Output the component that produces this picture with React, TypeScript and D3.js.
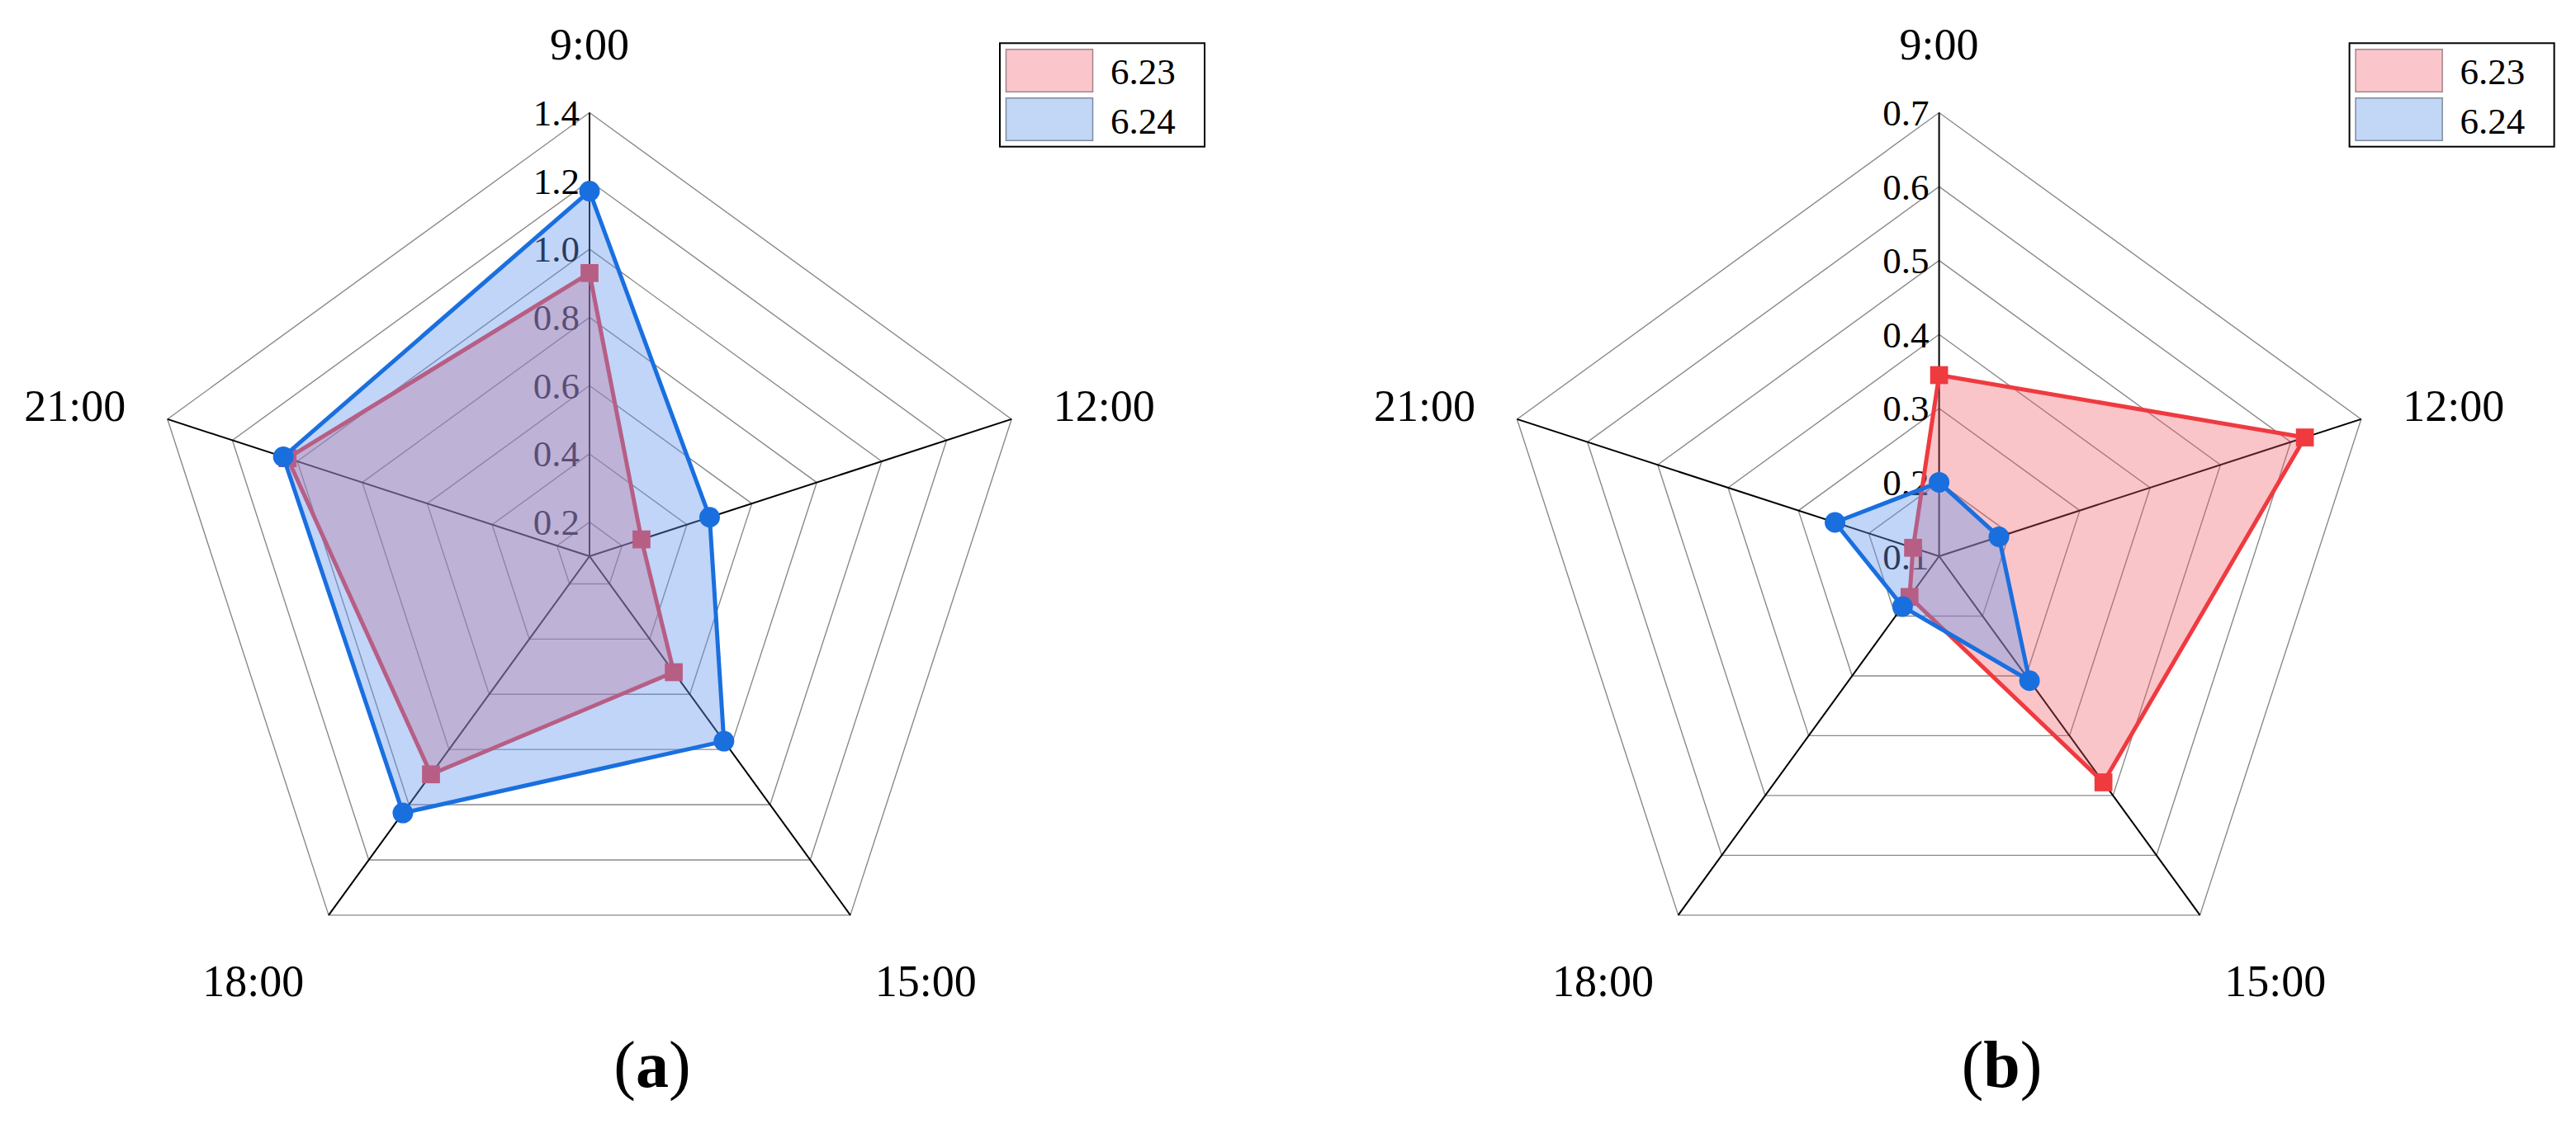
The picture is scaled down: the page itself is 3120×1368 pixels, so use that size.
import React, { useEffect } from "react";
import * as d3 from "d3";

// ---- data ----
const AXES = ["9:00", "12:00", "15:00", "18:00", "21:00"];
const SERIES = ["6.23", "6.24"];

const A_TICKS = [0.2, 0.4, 0.6, 0.8, 1.0, 1.2, 1.4];
const A_MIN = 0.1;
const A_MAX = 1.4;
const A_623 = [0.93, 0.26, 0.52, 0.89, 1.03];
const A_624 = [1.17, 0.47, 0.77, 1.03, 1.043];

const B_TICKS = [0.1, 0.2, 0.3, 0.4, 0.5, 0.6, 0.7];
const B_MIN = 0.1;
const B_MAX = 0.7;
const B_623 = [0.345, 0.62, 0.478, 0.168, 0.137];
const B_624 = [0.2, 0.185, 0.308, 0.184, 0.248];

const PANELS = ["a", "b"];

// ---- styles ----
const FONT = '"Liberation Serif", "Times New Roman", Times, "DejaVu Serif", serif';
const RED = "#EF3A40";
const RED_FILL = "rgba(240,90,100,0.35)";
const BLUE = "#1A6FDF";
const BLUE_FILL = "rgba(100,149,237,0.4)";
const GRID = "#8a8a8a";

const W = 3120;
const H = 1368;
const R = 537.5;
const CY = 674;

// label placement relative to axis tips
const LABEL_OFF = [
  { dx: 0, dy: -65, anchor: "middle" },
  { dx: 50.5, dy: 2, anchor: "start" },
  { dx: 29.7, dy: 98, anchor: "start" },
  { dx: -29.7, dy: 98, anchor: "end" },
  { dx: -50.5, dy: 2, anchor: "end" },
];

type RadarProps = {
  cx: number;
  ticks: number[];
  min: number;
  max: number;
  s1: number[];
  s2: number[];
  panel: string;
};

const txt = (size: number, extra: any = {}) => ({ fontFamily: FONT, fontSize: size, ...extra });

function Radar({ cx, ticks, min, max, s1, s2, panel }: RadarProps) {
  const cy = CY;
  const r = d3.scaleLinear().domain([min, max]).range([0, R]);
  const ang = (i: number) => (i * 2 * Math.PI) / AXES.length;
  const pt = (i: number, rad: number): [number, number] => [
    cx + rad * Math.sin(ang(i)),
    cy - rad * Math.cos(ang(i)),
  ];
  const closed = d3.line().curve(d3.curveLinearClosed);
  const rings = ticks.filter((t) => r(t) > 0.5);
  const poly = (vals: number[]) => vals.map((v, i) => pt(i, r(v)));
  const p1 = poly(s1);
  const p2 = poly(s2);
  const sq = 21.7;

  const legX = cx + 497;
  const legY = 52.3;

  return (
    <g>
      {rings.map((t) => (
        <path
          key={"ring" + t}
          d={closed(AXES.map((_, i) => pt(i, r(t)))) || ""}
          fill="none"
          stroke={GRID}
          strokeWidth={1.4}
        />
      ))}
      {AXES.map((_, i) => {
        const [x, y] = pt(i, R);
        return <line key={"sp" + i} x1={cx} y1={cy} x2={x} y2={y} stroke="#000" strokeWidth={2} />;
      })}
      {ticks.map((t) => (
        <text key={"tk" + t} x={cx - 12} y={cy - r(t) + 15.5} textAnchor="end" fill="#000" style={txt(45)}>
          {t.toFixed(1)}
        </text>
      ))}
      {AXES.map((lab, i) => {
        const [x, y] = pt(i, R);
        const o = LABEL_OFF[i];
        return (
          <text key={"al" + i} x={x + o.dx} y={y + o.dy} textAnchor={o.anchor as any} fill="#000" style={txt(54)}>
            {lab}
          </text>
        );
      })}
      <path d={closed(p1) || ""} fill={RED_FILL} stroke="none" />
      <path d={closed(p1) || ""} fill="none" stroke={RED} strokeWidth={5} strokeLinejoin="round" />
      {p1.map(([x, y], i) => (
        <rect key={"s1" + i} x={x - sq / 2} y={y - sq / 2} width={sq} height={sq} fill={RED} />
      ))}
      <path d={closed(p2) || ""} fill={BLUE_FILL} stroke="none" />
      <path d={closed(p2) || ""} fill="none" stroke={BLUE} strokeWidth={5} strokeLinejoin="round" />
      {p2.map(([x, y], i) => (
        <circle key={"s2" + i} cx={x} cy={y} r={12.5} fill={BLUE} />
      ))}
      <rect x={legX} y={legY} width={248} height={125.4} fill="#fff" stroke="#000" strokeWidth={2} />
      {SERIES.map((s, k) => (
        <g key={"lg" + k}>
          <rect
            x={legX + 7.5}
            y={legY + 7.5 + k * 59}
            width={105}
            height={51.5}
            fill={k === 0 ? "#FAC6CB" : "#C1D7F5"}
            stroke={k === 0 ? "#A08488" : "#7C8AA0"}
            strokeWidth={1.5}
          />
          <text x={legX + 134} y={legY + 49.4 + k * 60} fill="#000" style={txt(45)}>
            {s}
          </text>
        </g>
      ))}
      <text x={cx + 76} y={1317} textAnchor="middle" fill="#000" style={txt(80)}>
        (<tspan style={{ fontWeight: "bold" }}>{panel}</tspan>)
      </text>
    </g>
  );
}

export default function App() {
  useEffect(() => {
    document.body.style.margin = "0";
    document.body.style.overflow = "hidden";
  }, []);
  return (
    <svg
      width={W}
      height={H}
      viewBox={`0 0 ${W} ${H}`}
      style={{ position: "absolute", left: 0, top: 0, background: "#fff" }}
    >
      <rect x={0} y={0} width={W} height={H} fill="#fff" />
      <Radar cx={714} ticks={A_TICKS} min={A_MIN} max={A_MAX} s1={A_623} s2={A_624} panel={PANELS[0]} />
      <Radar cx={2348.6} ticks={B_TICKS} min={B_MIN} max={B_MAX} s1={B_623} s2={B_624} panel={PANELS[1]} />
    </svg>
  );
}
